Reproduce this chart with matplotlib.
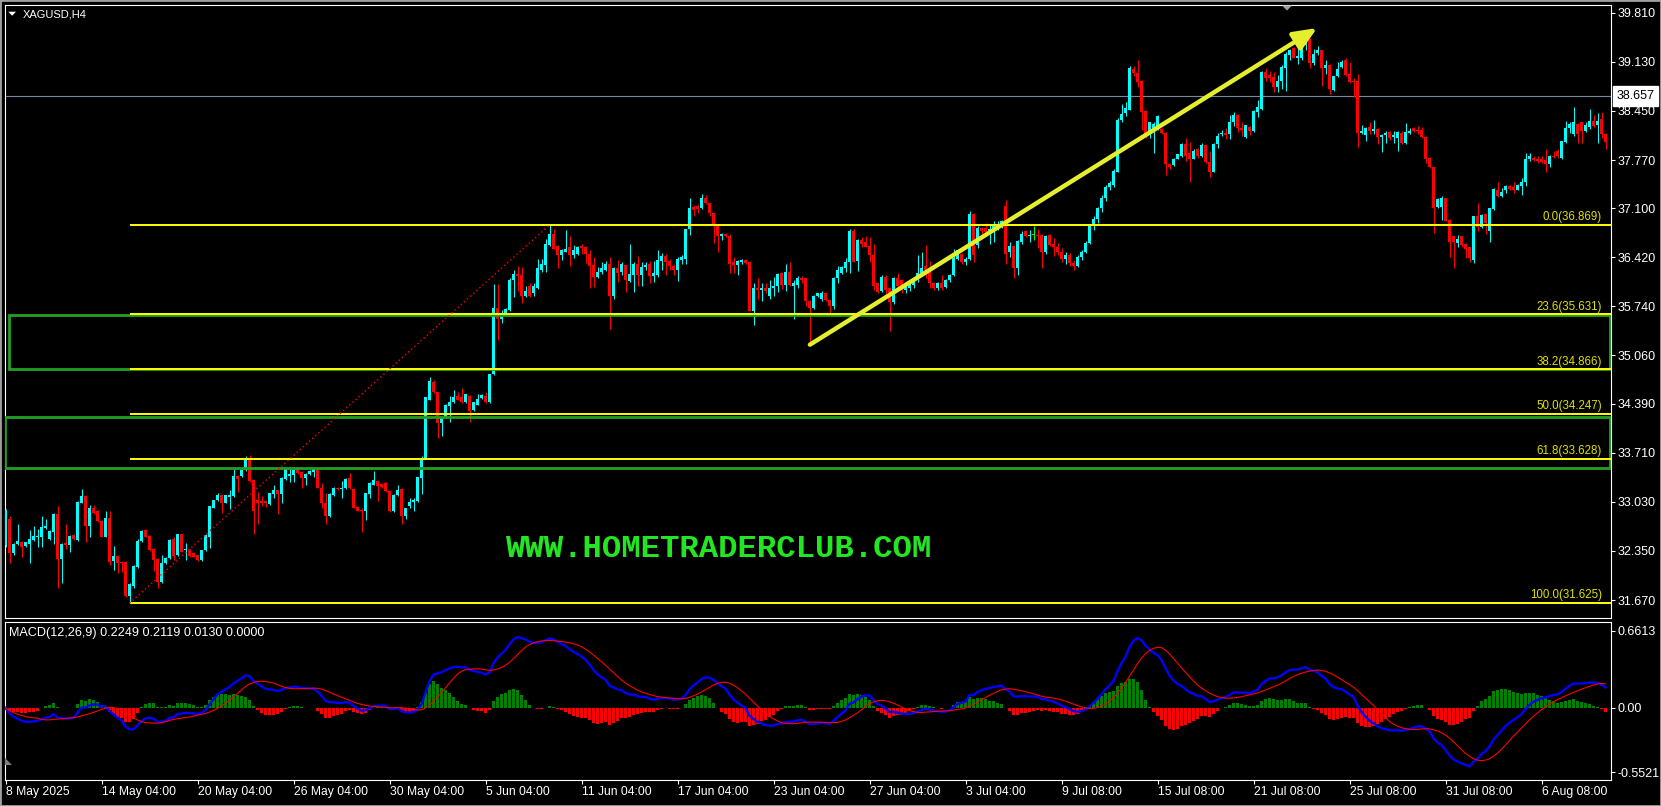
"""XAGUSD H4 candles with Fibonacci retracement, zones and MACD(12,26,9), MT4 look."""
import matplotlib
matplotlib.use("Agg")
import matplotlib.pyplot as plt
import matplotlib.transforms as mtransforms
from matplotlib.patches import Polygon, Rectangle
import numpy as np
import pandas as pd

W, H = 1661, 806

# H4 bars, oldest first (bar 0 = 8 May 2025)
opens = [
    32.43, 32.79, 32.32, 32.44, 32.48, 32.42, 32.45, 32.50, 32.55, 32.55,
    32.67, 32.52, 32.62, 32.86, 32.24, 32.46, 32.43, 32.57, 32.50, 33.02,
    33.11, 32.70, 32.95, 32.91, 32.77, 32.55, 32.81, 32.21, 32.28, 32.20,
    32.20, 31.72, 31.87, 32.13, 32.49, 32.64, 32.56, 32.38, 32.24, 31.92,
    32.18, 32.25, 32.51, 32.29, 32.58, 32.36, 32.37, 32.32, 32.29, 32.22,
    32.36, 32.55, 32.95, 33.05, 33.12, 33.02, 33.10, 33.11, 33.39, 33.39,
    33.47, 33.61, 33.33, 33.05, 33.04, 33.04, 33.00, 33.14, 33.19, 33.14,
    33.35, 33.39, 33.40, 33.48, 33.45, 33.36, 33.42, 33.44, 33.48, 33.23,
    33.02, 32.83, 33.12, 33.23, 33.21, 33.22, 33.36, 33.21, 32.96, 32.91,
    32.91, 33.14, 33.27, 33.32, 33.28, 33.29, 33.18, 32.90, 33.12, 33.21,
    32.83, 32.98, 33.03, 33.04, 33.36, 33.63, 34.45, 34.69, 34.55, 34.13,
    34.20, 34.36, 34.41, 34.50, 34.48, 34.41, 34.50, 34.30, 34.38, 34.47,
    34.50, 34.41, 34.80, 35.72, 35.56, 35.64, 35.69, 36.10, 36.19, 36.17,
    35.89, 36.03, 35.92, 35.99, 36.25, 36.31, 36.59, 36.74, 36.58, 36.46,
    36.50, 36.56, 36.45, 36.47, 36.58, 36.57, 36.47, 36.31, 36.15, 36.22,
    36.25, 36.33, 35.89, 36.27, 36.22, 36.31, 36.09, 36.18, 36.33, 36.17,
    36.28, 36.33, 36.16, 36.18, 36.37, 36.44, 36.37, 36.30, 36.25, 36.39,
    36.40, 36.81, 37.12, 37.13, 37.10, 37.24, 37.17, 37.03, 36.87, 36.72,
    36.75, 36.72, 36.35, 36.31, 36.35, 36.39, 36.36, 35.68, 36.00, 35.97,
    36.00, 35.89, 36.00, 36.03, 36.20, 36.04, 36.22, 36.03, 36.04, 36.14,
    36.13, 35.82, 35.72, 35.89, 35.85, 35.92, 35.83, 35.75, 36.13, 36.20,
    36.27, 36.36, 36.78, 36.37, 36.66, 36.64, 36.58, 36.45, 36.06, 35.96,
    36.15, 35.99, 35.80, 36.13, 36.10, 35.97, 36.00, 36.04, 36.12, 36.20,
    36.30, 36.24, 36.06, 35.99, 36.06, 36.01, 36.10, 36.17, 36.40, 36.47,
    36.36, 36.40, 37.02, 36.59, 36.83, 36.83, 36.73, 36.78, 36.82, 36.85,
    37.13, 36.50, 36.58, 36.27, 36.64, 36.79, 36.71, 36.73, 36.73, 36.73,
    36.50, 36.73, 36.60, 36.57, 36.50, 36.40, 36.46, 36.34, 36.30, 36.42,
    36.50, 36.62, 36.85, 36.95, 37.10, 37.25, 37.40, 37.43, 37.61, 38.32,
    38.42, 38.47, 39.03, 38.97, 38.87, 38.45, 38.13, 38.20, 38.20, 38.20,
    38.15, 37.72, 37.70, 37.79, 37.82, 37.99, 37.87, 37.79, 37.92, 37.82,
    37.98, 37.74, 37.61, 37.99, 38.13, 38.15, 38.13, 38.29, 38.40, 38.22,
    38.09, 38.23, 38.17, 38.44, 38.48, 38.99, 38.95, 38.92, 38.78, 38.86,
    39.04, 39.23, 39.32, 39.18, 39.19, 39.37, 39.45, 39.12, 39.26, 39.29,
    39.05, 39.09, 38.74, 38.93, 39.06, 39.15, 38.96, 38.87, 38.86, 38.15,
    38.11, 38.23, 38.17, 38.20, 38.09, 38.11, 38.16, 38.09, 38.08, 38.15,
    38.00, 38.14, 38.22, 38.19, 38.19, 38.09, 37.80, 37.67, 37.12, 37.12,
    37.24, 36.94, 36.71, 36.62, 36.71, 36.61, 36.56, 36.39, 36.99, 36.84,
    37.02, 36.78, 37.09, 37.36, 37.27, 37.36, 37.41, 37.40, 37.36, 37.41,
    37.46, 37.78, 37.80, 37.78, 37.78, 37.77, 37.72, 37.83, 37.90, 37.80,
    38.02, 38.22, 38.13, 38.27, 38.29, 38.17, 38.23, 38.31, 38.25, 38.34,
    38.13,
]
highs = [
    32.93, 32.83, 32.46, 32.73, 32.49, 32.48, 32.64, 32.70, 32.66, 32.84,
    32.79, 32.64, 32.88, 32.98, 32.46, 32.72, 32.57, 32.58, 33.04, 33.21,
    33.12, 32.99, 32.99, 32.92, 32.78, 32.91, 32.91, 32.42, 32.29, 32.21,
    32.21, 31.90, 32.15, 32.52, 32.64, 32.65, 32.57, 32.39, 32.25, 32.29,
    32.27, 32.52, 32.55, 32.59, 32.59, 32.46, 32.38, 32.33, 32.30, 32.37,
    32.58, 32.98, 33.06, 33.16, 33.13, 33.13, 33.19, 33.48, 33.40, 33.48,
    33.67, 33.68, 33.34, 33.17, 33.11, 33.05, 33.16, 33.26, 33.20, 33.37,
    33.49, 33.52, 33.52, 33.52, 33.46, 33.43, 33.47, 33.49, 33.49, 33.29,
    33.15, 33.15, 33.24, 33.24, 33.32, 33.36, 33.43, 33.22, 32.97, 32.95,
    33.16, 33.30, 33.46, 33.33, 33.29, 33.30, 33.19, 33.14, 33.27, 33.22,
    32.95, 33.09, 33.09, 33.38, 33.66, 34.49, 34.76, 34.72, 34.56, 34.21,
    34.39, 34.50, 34.58, 34.55, 34.61, 34.53, 34.51, 34.42, 34.53, 34.52,
    34.55, 34.81, 36.05, 36.05, 35.69, 35.72, 36.14, 36.24, 36.30, 36.29,
    36.03, 36.06, 36.06, 36.40, 36.40, 36.68, 36.869, 36.81, 36.59, 36.53,
    36.80, 36.72, 36.59, 36.58, 36.61, 36.58, 36.52, 36.42, 36.28, 36.36,
    36.37, 36.42, 36.28, 36.38, 36.36, 36.32, 36.61, 36.36, 36.44, 36.36,
    36.36, 36.37, 36.37, 36.52, 36.48, 36.47, 36.40, 36.33, 36.43, 36.46,
    36.82, 37.24, 37.15, 37.16, 37.30, 37.28, 37.18, 37.04, 36.88, 36.76,
    36.76, 36.75, 36.43, 36.38, 36.40, 36.40, 36.37, 36.06, 36.14, 36.06,
    36.06, 36.10, 36.15, 36.21, 36.22, 36.33, 36.36, 36.10, 36.16, 36.16,
    36.14, 35.83, 35.90, 35.93, 35.96, 35.93, 35.84, 36.15, 36.30, 36.30,
    36.41, 36.81, 36.81, 36.67, 36.70, 36.72, 36.70, 36.61, 36.07, 36.17,
    36.18, 36.01, 36.15, 36.20, 36.12, 36.06, 36.10, 36.15, 36.45, 36.49,
    36.59, 36.37, 36.08, 36.08, 36.18, 36.12, 36.19, 36.54, 36.54, 36.48,
    36.42, 37.06, 37.04, 36.86, 36.84, 36.89, 36.87, 36.92, 36.93, 36.94,
    37.21, 36.64, 36.59, 36.66, 36.79, 36.80, 36.80, 36.85, 36.81, 36.74,
    36.73, 36.74, 36.69, 36.62, 36.55, 36.50, 36.48, 36.38, 36.45, 36.52,
    36.65, 36.88, 37.00, 37.12, 37.28, 37.42, 37.48, 37.64, 38.35, 38.54,
    38.58, 39.07, 39.08, 39.15, 38.88, 38.46, 38.30, 38.29, 38.39, 38.21,
    38.16, 37.73, 37.80, 37.86, 38.00, 38.08, 38.02, 37.92, 37.93, 38.01,
    37.99, 37.89, 38.00, 38.15, 38.18, 38.21, 38.40, 38.44, 38.41, 38.30,
    38.26, 38.24, 38.46, 38.60, 39.00, 39.04, 39.01, 38.99, 38.95, 39.09,
    39.27, 39.31, 39.33, 39.37, 39.40, 39.47, 39.46, 39.31, 39.35, 39.30,
    39.16, 39.10, 38.94, 39.13, 39.15, 39.18, 39.13, 38.90, 38.96, 38.25,
    38.23, 38.29, 38.33, 38.21, 38.13, 38.17, 38.17, 38.17, 38.17, 38.17,
    38.28, 38.22, 38.23, 38.24, 38.23, 38.10, 37.81, 37.68, 37.24, 37.27,
    37.25, 36.95, 36.72, 36.73, 36.72, 36.62, 36.57, 37.00, 37.18, 37.02,
    37.03, 37.11, 37.38, 37.47, 37.38, 37.43, 37.42, 37.47, 37.44, 37.52,
    37.87, 37.87, 37.82, 37.82, 37.82, 37.92, 37.84, 37.89, 37.92, 38.04,
    38.31, 38.30, 38.50, 38.28, 38.30, 38.30, 38.48, 38.40, 38.42, 38.43,
    38.14,
]
lows = [
    32.40, 32.19, 32.29, 32.43, 32.26, 32.41, 32.18, 32.49, 32.40, 32.41,
    32.66, 32.50, 32.45, 31.84, 31.91, 32.38, 32.34, 32.50, 32.49, 33.01,
    32.48, 32.55, 32.86, 32.75, 32.54, 32.54, 32.15, 32.08, 32.05, 32.06,
    31.71, 31.625, 31.84, 32.12, 32.48, 32.54, 32.35, 32.07, 31.83, 31.91,
    32.17, 32.24, 32.23, 32.28, 32.33, 32.22, 32.27, 32.26, 32.21, 32.21,
    32.35, 32.39, 32.94, 33.04, 32.88, 33.01, 32.93, 33.10, 33.17, 33.38,
    33.46, 33.31, 32.58, 32.73, 32.97, 32.96, 32.99, 33.09, 32.86, 33.01,
    33.34, 33.31, 33.31, 33.42, 33.22, 33.26, 33.41, 33.38, 33.22, 32.94,
    32.73, 32.82, 33.11, 33.20, 33.09, 33.21, 33.21, 32.94, 32.90, 32.62,
    32.78, 33.08, 33.26, 33.04, 33.23, 33.17, 32.89, 32.89, 33.11, 32.72,
    32.80, 32.94, 32.90, 33.03, 33.14, 33.62, 34.44, 34.54, 33.91, 33.94,
    34.19, 34.14, 34.40, 34.44, 34.40, 34.40, 34.14, 34.29, 34.37, 34.46,
    34.40, 34.40, 34.79, 35.27, 35.51, 35.63, 35.68, 35.87, 35.95, 35.79,
    35.87, 35.87, 35.89, 35.98, 36.22, 36.22, 36.58, 36.53, 36.27, 36.38,
    36.49, 36.30, 36.41, 36.46, 36.47, 36.34, 36.00, 36.01, 36.13, 36.19,
    36.23, 35.43, 35.85, 36.08, 36.17, 35.94, 36.08, 35.94, 36.02, 36.03,
    36.24, 36.06, 36.08, 36.15, 36.24, 36.17, 36.24, 36.17, 36.09, 36.33,
    36.33, 36.73, 36.99, 37.03, 37.09, 37.16, 36.99, 36.62, 36.50, 36.66,
    36.70, 36.21, 36.21, 36.17, 36.33, 36.33, 35.67, 35.48, 35.85, 35.82,
    35.92, 35.85, 35.89, 35.94, 35.98, 35.96, 36.03, 35.57, 36.00, 36.06,
    35.75, 35.22, 35.71, 35.87, 35.82, 35.82, 35.65, 35.70, 36.06, 36.19,
    36.22, 36.20, 36.35, 36.23, 36.57, 36.56, 36.36, 35.97, 35.93, 35.94,
    35.90, 35.40, 35.78, 36.00, 35.92, 35.92, 35.95, 36.00, 36.08, 36.18,
    36.14, 36.00, 35.97, 35.97, 35.97, 36.00, 36.08, 36.16, 36.38, 36.33,
    36.31, 36.39, 36.36, 36.55, 36.72, 36.76, 36.60, 36.64, 36.80, 36.83,
    36.33, 36.43, 36.13, 36.17, 36.61, 36.70, 36.64, 36.66, 36.55, 36.27,
    36.47, 36.58, 36.44, 36.45, 36.35, 36.33, 36.30, 36.25, 36.28, 36.38,
    36.48, 36.60, 36.80, 36.90, 37.05, 37.20, 37.35, 37.40, 37.60, 38.30,
    38.38, 38.46, 38.94, 38.78, 38.18, 38.08, 38.08, 37.87, 38.18, 38.13,
    37.56, 37.64, 37.69, 37.78, 37.81, 37.76, 37.47, 37.78, 37.80, 37.81,
    37.73, 37.54, 37.60, 37.94, 38.10, 38.06, 38.06, 38.24, 38.16, 38.10,
    38.08, 38.12, 38.16, 38.37, 38.47, 38.87, 38.85, 38.71, 38.71, 38.75,
    38.73, 39.15, 39.18, 39.10, 39.16, 39.30, 39.04, 39.09, 39.23, 38.79,
    38.96, 38.68, 38.72, 38.92, 39.04, 38.94, 38.84, 38.64, 37.95, 38.13,
    38.03, 38.13, 38.13, 37.99, 37.88, 38.00, 38.05, 38.01, 37.89, 37.99,
    37.99, 38.13, 38.16, 38.13, 38.08, 37.73, 37.66, 36.76, 37.11, 36.94,
    36.92, 36.43, 36.27, 36.57, 36.57, 36.41, 36.36, 36.34, 36.78, 36.83,
    36.75, 36.64, 37.08, 37.26, 37.26, 37.31, 37.36, 37.31, 37.35, 37.29,
    37.41, 37.75, 37.75, 37.73, 37.73, 37.60, 37.68, 37.80, 37.80, 37.79,
    38.01, 38.15, 38.10, 38.01, 38.01, 38.16, 38.20, 38.23, 38.01, 38.08,
    37.92,
]
closes = [
    32.92, 32.32, 32.45, 32.49, 32.41, 32.47, 32.52, 32.56, 32.56, 32.68,
    32.70, 32.63, 32.86, 32.24, 32.45, 32.43, 32.56, 32.51, 33.03, 33.11,
    32.70, 32.95, 32.87, 32.76, 32.55, 32.81, 32.20, 32.28, 32.19, 32.19,
    31.72, 31.89, 32.14, 32.49, 32.63, 32.55, 32.36, 32.23, 31.92, 32.19,
    32.25, 32.50, 32.28, 32.58, 32.34, 32.38, 32.28, 32.27, 32.22, 32.36,
    32.57, 32.97, 33.05, 33.12, 33.02, 33.12, 33.12, 33.39, 33.35, 33.47,
    33.61, 33.32, 32.91, 33.02, 33.01, 33.01, 33.15, 33.19, 33.14, 33.36,
    33.48, 33.42, 33.47, 33.43, 33.36, 33.42, 33.46, 33.48, 33.23, 33.02,
    32.83, 33.14, 33.23, 33.21, 33.23, 33.35, 33.22, 32.95, 32.91, 32.90,
    33.15, 33.29, 33.33, 33.25, 33.24, 33.18, 32.90, 33.13, 33.20, 32.83,
    32.94, 33.03, 33.05, 33.37, 33.63, 34.48, 34.71, 34.55, 34.13, 34.20,
    34.38, 34.41, 34.48, 34.45, 34.41, 34.52, 34.29, 34.41, 34.46, 34.51,
    34.41, 34.80, 35.72, 35.56, 35.59, 35.71, 36.11, 36.19, 36.16, 35.89,
    35.96, 35.89, 36.02, 36.27, 36.33, 36.60, 36.74, 36.54, 36.46, 36.52,
    36.54, 36.45, 36.52, 36.57, 36.55, 36.47, 36.30, 36.15, 36.22, 36.27,
    36.33, 35.89, 36.27, 36.21, 36.33, 36.10, 36.19, 36.33, 36.17, 36.28,
    36.31, 36.16, 36.20, 36.38, 36.44, 36.36, 36.30, 36.25, 36.40, 36.42,
    36.81, 37.10, 37.08, 37.09, 37.25, 37.17, 37.03, 36.87, 36.71, 36.74,
    36.71, 36.33, 36.31, 36.37, 36.38, 36.34, 35.68, 36.00, 35.97, 36.00,
    35.95, 36.00, 36.03, 36.19, 36.04, 36.22, 36.04, 36.06, 36.13, 36.10,
    35.81, 35.72, 35.89, 35.92, 35.92, 35.83, 35.75, 36.14, 36.24, 36.29,
    36.36, 36.78, 36.36, 36.66, 36.61, 36.57, 36.45, 36.03, 35.94, 36.15,
    35.97, 35.80, 36.14, 36.03, 35.97, 36.04, 36.05, 36.12, 36.20, 36.27,
    36.24, 36.06, 35.99, 36.06, 35.99, 36.10, 36.18, 36.41, 36.52, 36.36,
    36.40, 37.02, 36.46, 36.83, 36.78, 36.77, 36.81, 36.85, 36.87, 36.93,
    36.47, 36.58, 36.27, 36.65, 36.74, 36.71, 36.73, 36.73, 36.71, 36.50,
    36.72, 36.59, 36.57, 36.50, 36.40, 36.46, 36.34, 36.30, 36.42, 36.50,
    36.62, 36.85, 36.95, 37.10, 37.25, 37.40, 37.45, 37.62, 38.33, 38.41,
    38.49, 39.05, 38.97, 38.85, 38.43, 38.13, 38.29, 38.27, 38.38, 38.14,
    37.72, 37.67, 37.79, 37.85, 37.99, 37.82, 37.78, 37.90, 37.82, 37.98,
    37.74, 37.61, 37.99, 38.10, 38.15, 38.11, 38.29, 38.40, 38.21, 38.19,
    38.25, 38.17, 38.45, 38.50, 38.99, 38.90, 38.90, 38.78, 38.87, 39.06,
    39.24, 39.29, 39.19, 39.21, 39.38, 39.45, 39.12, 39.24, 39.29, 39.04,
    39.09, 38.75, 38.93, 39.03, 39.13, 38.95, 38.85, 38.85, 38.15, 38.17,
    38.22, 38.17, 38.20, 38.09, 38.12, 38.15, 38.08, 38.11, 38.16, 38.00,
    38.16, 38.17, 38.17, 38.17, 38.09, 37.78, 37.67, 37.10, 37.23, 37.24,
    36.93, 36.64, 36.64, 36.68, 36.59, 36.53, 36.41, 36.99, 36.84, 37.01,
    36.89, 37.10, 37.37, 37.27, 37.32, 37.41, 37.37, 37.35, 37.43, 37.47,
    37.79, 37.82, 37.77, 37.75, 37.74, 37.72, 37.83, 37.81, 37.82, 38.03,
    38.22, 38.27, 38.29, 38.13, 38.17, 38.25, 38.31, 38.24, 38.31, 38.13,
    38.02,
]

time_labels = [
    "8 May 2025", "14 May 04:00", "20 May 04:00", "26 May 04:00", "30 May 04:00",
    "5 Jun 04:00", "11 Jun 04:00", "17 Jun 04:00", "23 Jun 04:00", "27 Jun 04:00",
    "3 Jul 04:00", "9 Jul 08:00", "15 Jul 08:00", "21 Jul 08:00", "25 Jul 08:00",
    "31 Jul 08:00", "6 Aug 08:00",
]
price_ticks = [39.810, 39.130, 38.450, 37.770, 37.100, 36.420, 35.740,
               35.060, 34.390, 33.710, 33.030, 32.350, 31.670]
bid_price = 38.657

fib_levels = [0.0, 23.6, 38.2, 50.0, 61.8, 100.0]
fib_prices = [36.869, 35.631, 34.866, 34.247, 33.628, 31.625]
fib_low_bar, fib_high_bar = 31, 136

# (first bar, low price, high price) of the two green boxes
zones = [(0.75, 34.868, 35.620), (-0.2, 33.500, 34.213)]

# trend arrow: (bar, price) start and tip
arrow_start = (201.1, 35.21)
arrow_tip = (327.9, 39.60)

macd_ticks = [0.6613, 0.0, -0.5521]
macd_tick_labels = ["0.6613", "0.00", "-0.5521"]
macd_readout = "0.2249 0.2119 0.0130 0.0000"

BULL, BEAR, DOJI = "#00ffff", "#ff0000", "#00ff00"
YELLOW = "#ffff00"
BOX_GREEN = "#22a022"


def px_box(x0, y0, x1, y1):
    """Axes rect from pixel edges (origin top-left)."""
    return [x0 / W, 1 - y1 / H, (x1 - x0) / W, (y1 - y0) / H]


def fig_pt(x, y):
    return (x / W, 1 - y / H)


plt.rcParams["font.family"] = ["Liberation Sans", "DejaVu Sans"]
fig = plt.figure(figsize=(W / 100, H / 100), dpi=100, facecolor="black")
ax = fig.add_axes(px_box(4.5, 4.7, 1611, 618), facecolor="black")
ax2 = fig.add_axes(px_box(4.5, 621.5, 1611, 780), facecolor="black", sharex=ax)

o, hi, lo, c = (np.array(v, dtype=float) for v in (opens, highs, lows, closes))
n = len(c)
x = np.arange(n)
x_right = 401.375
ax.set_xlim(-0.25, x_right)
ax.set_ylim(31.421, 39.923)

# ---- price panel
ax.axhline(bid_price, color="#778899", lw=0.8, zorder=1)

col = np.where(c > o, BULL, np.where(c < o, BEAR, DOJI))
ax.vlines(x, lo, hi, colors=col, lw=0.75, zorder=3)
ax.bar(x, np.maximum(np.abs(c - o), 0.014), bottom=np.minimum(o, c),
       width=0.75, color=col, lw=0, zorder=3)

for x0, p_lo, p_hi in zones:
    ax.add_patch(Rectangle((x0, p_lo), 401.2 - x0, p_hi - p_lo, fill=False,
                           ec=BOX_GREEN, lw=2.0, zorder=4))

ax.hlines(fib_prices, fib_low_bar, x_right, colors=YELLOW, lw=1.4, zorder=5)
ax.plot([fib_low_bar, fib_high_bar], [fib_prices[-1], fib_prices[0]],
        color=BEAR, lw=1.0, ls=(0, (1, 2)), zorder=5)
trans = mtransforms.blended_transform_factory(ax.transAxes, ax.transData)
for lvl, p in zip(fib_levels, fib_prices):
    ax.text(0.9944, p + 0.025, f"{lvl:.1f}({p:.3f})", transform=trans,
            ha="right", va="bottom", color="#e0e000", fontsize=8.3, zorder=6)

ax.annotate("", xy=arrow_tip, xytext=arrow_start, zorder=7,
            arrowprops=dict(arrowstyle="-|>,head_length=1.4,head_width=0.6",
                            color="#e4ee2c", lw=3.2, shrinkA=0, shrinkB=0,
                            mutation_scale=10, capstyle="round"))

ax.text(178.4, 32.378, "WWW.HOMETRADERCLUB.COM", family="Liberation Mono",
        weight="bold", size=23.3, color="#22e622", ha="center", va="center",
        zorder=6)

ax.tick_params(axis="x", bottom=False, labelbottom=False)
ax.yaxis.tick_right()
ax.set_yticks(price_ticks, [f"{p:.3f}" for p in price_ticks])
ax.tick_params(axis="y", colors="white", labelsize=9, length=3, width=0.8, pad=2)

ax.text(1.0035, bid_price, f"{bid_price:.3f}", transform=trans, ha="left",
        va="center", fontsize=9, color="black", clip_on=False, zorder=10,
        bbox=dict(boxstyle="square,pad=0.3", fc="white", ec="white"))

# ---- MACD panel
cl = pd.Series(c)
macd = cl.ewm(span=12, adjust=False).mean() - cl.ewm(span=26, adjust=False).mean()
signal = macd.rolling(9, min_periods=1).mean()
hist = (macd - signal).to_numpy()

ax2.bar(x, hist, width=0.75, color=np.where(hist >= 0, "#008000", BEAR),
        lw=0, zorder=2)
ax2.plot(x, macd, color="#0000ff", lw=1.7, zorder=3)
ax2.plot(x, signal, color=BEAR, lw=0.8, zorder=4)
ax2.set_ylim(-0.6186, 0.7414)
ax2.yaxis.tick_right()
ax2.set_yticks(macd_ticks, macd_tick_labels)
ax2.tick_params(axis="y", colors="white", labelsize=9, length=3, width=0.8, pad=2)
ax2.set_xticks(np.arange(0, n, 24)[:len(time_labels)], time_labels)
ax2.tick_params(axis="x", colors="white", labelsize=8.7, length=3, width=0.8, pad=1)
for t in ax2.get_xticklabels():
    t.set_horizontalalignment("left")

for a in (ax, ax2):
    for s in a.spines.values():
        s.set_color("white")
        s.set_linewidth(0.8)

# ---- window decorations
fig.text(*fig_pt(23, 14.5), "XAGUSD,H4", color="white", fontsize=8, va="center")
fig.add_artist(Polygon([fig_pt(8.3, 11.7), fig_pt(16, 11.7), fig_pt(12.15, 15.7)],
                       closed=True, transform=fig.transFigure, fc="white", ec="none"))
fig.add_artist(Polygon([fig_pt(1282, 5.5), fig_pt(1292, 5.5), fig_pt(1287, 10.5)],
                       closed=True, transform=fig.transFigure, fc="#a0a0a0", ec="none"))
fig.add_artist(Polygon([fig_pt(5, 758), fig_pt(5, 765), fig_pt(12, 765)],
                       closed=True, transform=fig.transFigure, fc="#808080", ec="none"))
fig.text(*fig_pt(9.3, 632.7), f"MACD(12,26,9) {macd_readout}", color="white",
         fontsize=9.1, va="center", ha="left")
fig.add_artist(Rectangle((0, 0), 1, 1, transform=fig.transFigure, fill=False,
                         ec="#a0a0a0", lw=2))

fig.savefig("out.png", dpi=100, facecolor="black")
print("wrote out.png")
